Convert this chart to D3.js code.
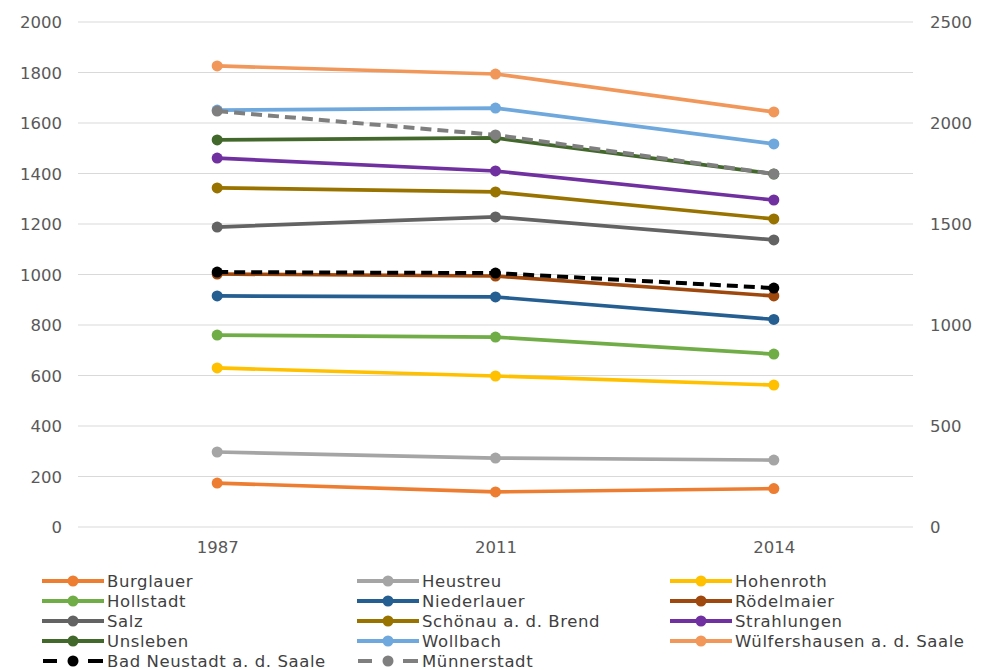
<!DOCTYPE html>
<html>
<head>
<meta charset="utf-8">
<script src="https://cdn.jsdelivr.net/npm/d3@7"></script>
<style>
  html, body { margin: 0; padding: 0; background: #ffffff; }
  svg { display: block; }
</style>
</head>
<body>
<svg id="chart" width="988" height="670"></svg>
<script>
// Years on the category axis
const years = ["1987", "2011", "2014"];

// Municipalities plotted against the left axis
const burglauer     = [174, 139, 152];
const heustreu      = [297, 273, 265];
const hohenroth     = [630, 598, 562];
const hollstadt     = [760, 752, 685];
const niederlauer   = [915, 911, 822];
const roedelmaier   = [1002, 994, 915];
const salz          = [1188, 1228, 1137];
const schoenau      = [1343, 1327, 1220];
const strahlungen   = [1461, 1410, 1295];
const unsleben      = [1533, 1541, 1398];
const wollbach      = [1651, 1659, 1517];
const wuelfershausen = [1826, 1794, 1644];

// Towns plotted against the right axis
const badNeustadt   = [1262, 1257, 1183];
const muennerstadt  = [2059, 1941, 1748];

// Axis ticks
const leftTicks  = [0, 200, 400, 600, 800, 1000, 1200, 1400, 1600, 1800, 2000];
const rightTicks = [0, 500, 1000, 1500, 2000, 2500];

const series = [
  { name: "Burglauer", values: burglauer, color: "#ED7D31", axis: "left" },
  { name: "Heustreu", values: heustreu, color: "#A5A5A5", axis: "left" },
  { name: "Hohenroth", values: hohenroth, color: "#FFC000", axis: "left" },
  { name: "Hollstadt", values: hollstadt, color: "#70AD47", axis: "left" },
  { name: "Niederlauer", values: niederlauer, color: "#255E91", axis: "left" },
  { name: "Rödelmaier", values: roedelmaier, color: "#9E480E", axis: "left" },
  { name: "Salz", values: salz, color: "#636363", axis: "left" },
  { name: "Schönau a. d. Brend", values: schoenau, color: "#997300", axis: "left" },
  { name: "Strahlungen", values: strahlungen, color: "#7030A0", axis: "left" },
  { name: "Unsleben", values: unsleben, color: "#43682B", axis: "left" },
  { name: "Wollbach", values: wollbach, color: "#6FA8DC", axis: "left" },
  { name: "Wülfershausen a. d. Saale", values: wuelfershausen, color: "#F1975A", axis: "left" },
  { name: "Bad Neustadt a. d. Saale", values: badNeustadt, color: "#000000", axis: "right", dashed: true },
  { name: "Münnerstadt", values: muennerstadt, color: "#7F7F7F", axis: "right", dashed: true }
];

const svg = d3.select("#chart");
const plot = { left: 78, right: 913, top: 22, bottom: 527 };
const font = "'DejaVu Sans', sans-serif";

const x = d3.scalePoint().domain(years).range([plot.left, plot.right]).padding(0.5);
const yL = d3.scaleLinear().domain([0, 2000]).range([plot.bottom, plot.top]);
const yR = d3.scaleLinear().domain([0, 2500]).range([plot.bottom, plot.top]);

// Horizontal gridlines
svg.append("g")
  .selectAll("line")
  .data(leftTicks)
  .join("line")
  .attr("x1", plot.left).attr("x2", plot.right)
  .attr("y1", d => yL(d)).attr("y2", d => yL(d))
  .attr("stroke", "#D9D9D9").attr("stroke-width", 1.2);

// Left axis
const axL = svg.append("g")
  .attr("transform", `translate(${plot.left - 16},0)`)
  .call(d3.axisLeft(yL).tickValues(leftTicks).tickSize(0).tickPadding(0).tickFormat(d3.format("d")));
axL.select(".domain").remove();
axL.selectAll("text").attr("font-family", font).attr("font-size", 16.5).attr("fill", "#595959").attr("dy", "0.35em");

// Right axis
const axR = svg.append("g")
  .attr("transform", `translate(${plot.right + 17},0)`)
  .call(d3.axisRight(yR).tickValues(rightTicks).tickSize(0).tickPadding(0).tickFormat(d3.format("d")));
axR.select(".domain").remove();
axR.selectAll("text").attr("font-family", font).attr("font-size", 16.5).attr("fill", "#595959").attr("dy", "0.35em");

// Bottom axis
const axB = svg.append("g")
  .attr("transform", `translate(0,${plot.bottom + 12})`)
  .call(d3.axisBottom(x).tickSize(0).tickPadding(0));
axB.select(".domain").remove();
axB.selectAll("text").attr("font-family", font).attr("font-size", 16.5).attr("fill", "#595959").attr("dy", "0.85em");

// Lines and markers
const drawOrder = series.filter(s => s.axis === "left").concat(series.filter(s => s.axis === "right"));
drawOrder.forEach(s => {
  const y = s.axis === "left" ? yL : yR;
  const line = d3.line().x((d, i) => x(years[i])).y(d => y(d));
  const g = svg.append("g");
  g.append("path")
    .datum(s.values)
    .attr("d", line)
    .attr("fill", "none")
    .attr("stroke", s.color)
    .attr("stroke-width", s.dashed ? 4 : 3.7)
    .attr("stroke-dasharray", s.dashed ? "11,6" : null)
    .attr("stroke-linejoin", "round");
  g.selectAll("circle")
    .data(s.values)
    .join("circle")
    .attr("cx", (d, i) => x(years[i]))
    .attr("cy", d => y(d))
    .attr("r", 5.5)
    .attr("fill", s.color);
});

// Legend: three columns, filled row by row
const legendCols = [42, 357, 670];
const legendRows = [581, 601, 621, 641, 661];
const legend = svg.append("g");
series.forEach((s, i) => {
  const cx = legendCols[i % 3];
  const cy = legendRows[Math.floor(i / 3)];
  const item = legend.append("g").attr("transform", `translate(${cx},${cy})`);
  if (s.dashed) {
    item.append("line").attr("x1", 1).attr("x2", 15).attr("y1", 0).attr("y2", 0)
      .attr("stroke", s.color).attr("stroke-width", 4);
    item.append("line").attr("x1", 46).attr("x2", 61).attr("y1", 0).attr("y2", 0)
      .attr("stroke", s.color).attr("stroke-width", 4);
  } else {
    item.append("line").attr("x1", 0).attr("x2", 62).attr("y1", 0).attr("y2", 0)
      .attr("stroke", s.color).attr("stroke-width", 4);
  }
  item.append("circle").attr("cx", 31).attr("cy", 0).attr("r", 5.5).attr("fill", s.color);
  item.append("text")
    .attr("x", 65).attr("y", 0).attr("dy", "0.35em")
    .attr("font-family", font).attr("font-size", 16.5).attr("letter-spacing", 0.6)
    .attr("fill", "#404040")
    .text(s.name);
});
</script>
</body>
</html>
